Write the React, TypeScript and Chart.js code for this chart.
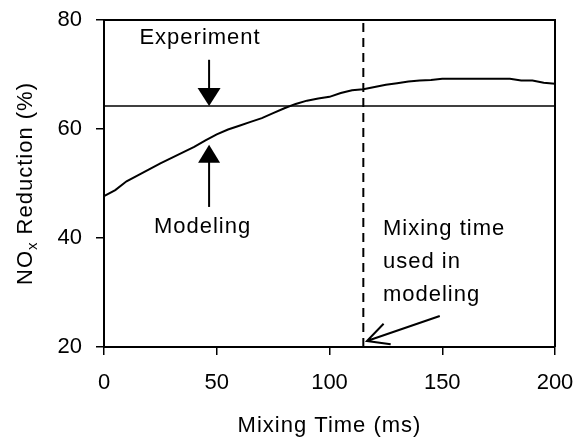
import React, { useEffect, useRef } from "react";
import { Chart, registerables } from "chart.js";

Chart.register(...registerables);

// ---- data ----
const mixingTimeMs = [
  0, 5, 10, 15, 20, 25, 30, 35, 40, 45, 50, 55, 60, 65, 70, 75, 80, 85, 90, 95,
  100, 105, 110, 115, 120, 125, 130, 135, 140, 145, 150, 155, 160, 165, 170, 175,
  180, 185, 190, 195, 200,
];
const modeledReduction = [
  47.7, 48.8, 50.4, 51.5, 52.6, 53.7, 54.7, 55.7, 56.7, 57.9, 59.0, 59.9, 60.6,
  61.3, 62.0, 62.9, 63.8, 64.6, 65.2, 65.6, 65.9, 66.6, 67.1, 67.3, 67.7, 68.1,
  68.4, 68.7, 68.9, 69.0, 69.2, 69.2, 69.2, 69.2, 69.2, 69.2, 69.2, 68.9, 68.9,
  68.5, 68.3,
];
const experimentReduction = 64.2;
const mixingTimeUsedMs = 115;
const xTickValues = [0, 50, 100, 150, 200];
const yTickValues = [20, 40, 60, 80];
const xAxisTitle = "Mixing Time (ms)";
const yAxisTitleParts = ["NO", "x", " Reduction (%)"];
const experimentLabel = "Experiment";
const modelingLabel = "Modeling";
const mixingNoteLines = ["Mixing time", "used in", "modeling"];

const FONT = '"Liberation Sans", Arial, Helvetica, sans-serif';

function filledHead(ctx: CanvasRenderingContext2D, tx: number, ty: number, dir: number, len: number, w: number) {
  // dir: +1 pointing down, -1 pointing up
  ctx.beginPath();
  ctx.moveTo(tx, ty);
  ctx.lineTo(tx - w / 2, ty - dir * len);
  ctx.lineTo(tx + w / 2, ty - dir * len);
  ctx.closePath();
  ctx.fill();
}

const overlayPlugin = {
  id: "overlay",
  afterDraw(chart: any) {
    const { ctx, chartArea: a, scales } = chart;
    const X = (v: number) => scales.x.getPixelForValue(v);
    const Y = (v: number) => scales.y.getPixelForValue(v);
    ctx.save();
    ctx.strokeStyle = "#000";
    ctx.fillStyle = "#000";

    // frame top & right
    ctx.lineWidth = 2;
    ctx.beginPath();
    ctx.moveTo(a.left, a.top);
    ctx.lineTo(a.right, a.top);
    ctx.lineTo(a.right, a.bottom);
    ctx.stroke();

    ctx.font = `22px ${FONT}`;
    (ctx as any).letterSpacing = "1px";
    ctx.textBaseline = "alphabetic";

    // Experiment label + arrow
    ctx.textAlign = "center";
    ctx.fillText(experimentLabel, X(42.6), Y(75.6));
    const ax = X(46.6);
    ctx.lineWidth = 2;
    ctx.beginPath();
    ctx.moveTo(ax, Y(72.7));
    ctx.lineTo(ax, Y(experimentReduction) - 17);
    ctx.stroke();
    filledHead(ctx, ax, Y(experimentReduction), 1, 18, 23);

    // Modeling label + arrow
    ctx.fillText(modelingLabel, X(43.7), Y(40.9));
    const tipY = Y(57.1);
    ctx.beginPath();
    ctx.moveTo(ax, Y(45.7));
    ctx.lineTo(ax, tipY + 17);
    ctx.stroke();
    filledHead(ctx, ax, tipY, -1, 18, 22);

    // Mixing time note
    ctx.textAlign = "left";
    const baseY = [40.55, 34.5, 28.45];
    mixingNoteLines.forEach((t, i) => ctx.fillText(t, X(123.7), Y(baseY[i])));

    // open arrow
    const sx = X(148.9), sy = Y(25.7), tx = X(116.6), ty = Y(21.1);
    ctx.lineWidth = 2;
    ctx.beginPath();
    ctx.moveTo(sx, sy);
    ctx.lineTo(tx, ty);
    const ang = Math.atan2(sy - ty, sx - tx);
    const hl = 24, spread = (27 * Math.PI) / 180;
    ctx.moveTo(tx + hl * Math.cos(ang - spread), ty + hl * Math.sin(ang - spread));
    ctx.lineTo(tx, ty);
    ctx.lineTo(tx + hl * Math.cos(ang + spread), ty + hl * Math.sin(ang + spread));
    ctx.stroke();

    // x axis title
    ctx.textAlign = "center";
    ctx.fillText(xAxisTitle, (a.left + a.right) / 2, 432);

    // y axis title with subscript
    ctx.save();
    ctx.translate(32, (a.top + a.bottom) / 2);
    ctx.rotate(-Math.PI / 2);
    ctx.textAlign = "left";
    ctx.font = `22px ${FONT}`;
    const w0 = ctx.measureText(yAxisTitleParts[0]).width;
    const w2 = ctx.measureText(yAxisTitleParts[2]).width;
    ctx.font = `15px ${FONT}`;
    const w1 = ctx.measureText(yAxisTitleParts[1]).width;
    let px = -(w0 + w1 + w2) / 2;
    ctx.font = `22px ${FONT}`;
    ctx.fillText(yAxisTitleParts[0], px, 0);
    px += w0;
    ctx.font = `15px ${FONT}`;
    ctx.fillText(yAxisTitleParts[1], px, 5);
    px += w1;
    ctx.font = `22px ${FONT}`;
    ctx.fillText(yAxisTitleParts[2], px, 0);
    ctx.restore();

    ctx.restore();
  },
};

const zeroPad = (s: any) => {
  s.paddingTop = 0;
  s.paddingBottom = 0;
  s.paddingLeft = 0;
  s.paddingRight = 0;
};

export default function App() {
  const ref = useRef<HTMLCanvasElement | null>(null);
  useEffect(() => {
    if (!ref.current) return;
    const chart = new Chart(ref.current, {
      type: "line",
      data: {
        datasets: [
          {
            data: mixingTimeMs.map((t, i) => ({ x: t, y: modeledReduction[i] })),
            borderColor: "#000",
            borderWidth: 2,
            pointRadius: 0,
            tension: 0,
          },
          {
            data: [
              { x: xTickValues[0], y: experimentReduction },
              { x: xTickValues[xTickValues.length - 1], y: experimentReduction },
            ],
            borderColor: "#000",
            borderWidth: 1.5,
            pointRadius: 0,
          },
          {
            data: [
              { x: mixingTimeUsedMs, y: yTickValues[0] },
              { x: mixingTimeUsedMs, y: yTickValues[yTickValues.length - 1] },
            ],
            borderColor: "#000",
            borderWidth: 2,
            borderDash: [9, 6],
            pointRadius: 0,
          },
        ],
      },
      options: {
        responsive: false,
        animation: false,
        events: [],
        layout: { padding: { left: 0, top: 20, right: 24, bottom: 0 } },
        plugins: { legend: { display: false }, tooltip: { enabled: false } },
        scales: {
          x: {
            type: "linear",
            min: 0,
            max: 200,
            afterBuildTicks: (s: any) => {
              s.ticks = xTickValues.map((v) => ({ value: v }));
            },
            afterFit: (s: any) => {
              s.height = 93;
              zeroPad(s);
            },
            ticks: { color: "#000", font: { family: FONT, size: 22 }, padding: 15, maxRotation: 0 },
            grid: { drawOnChartArea: false, drawTicks: true, tickLength: 8, color: "#000", lineWidth: 1.5 },
            border: { display: true, color: "#000", width: 2 },
          },
          y: {
            type: "linear",
            min: 20,
            max: 80,
            afterBuildTicks: (s: any) => {
              s.ticks = yTickValues.map((v) => ({ value: v }));
            },
            afterFit: (s: any) => {
              s.width = 104;
              zeroPad(s);
            },
            ticks: { color: "#000", font: { family: FONT, size: 22 }, padding: 14 },
            grid: { drawOnChartArea: false, drawTicks: true, tickLength: 8, color: "#000", lineWidth: 1.5 },
            border: { display: true, color: "#000", width: 2 },
          },
        },
      },
      plugins: [overlayPlugin],
    });
    return () => chart.destroy();
  }, []);
  return (
    <div style={{ position: "absolute", left: 0, top: 0, width: 579, height: 440, background: "#fff" }}>
      <canvas ref={ref} width={579} height={440} style={{ display: "block" }} />
    </div>
  );
}
